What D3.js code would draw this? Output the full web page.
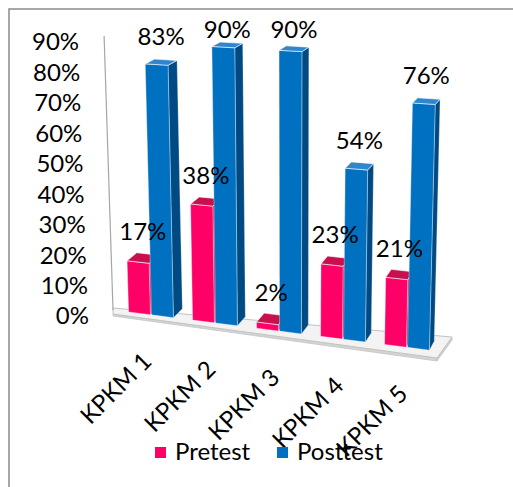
<!DOCTYPE html>
<html>
<head>
<meta charset="utf-8">
<script src="https://cdn.jsdelivr.net/npm/d3@7/dist/d3.min.js"></script>
<style>
  html, body { margin: 0; padding: 0; background: #fff; }
  svg { display: block; font-family: Lato, "Open Sans", sans-serif; }
</style>
</head>
<body>
<svg id="chart" width="513" height="487"></svg>
<script>
// ---- data ----
const categories = ["KPKM 1", "KPKM 2", "KPKM 3", "KPKM 4", "KPKM 5"];
const seriesNames = ["Pretest", "Posttest"];
const pretest = [17, 38, 2, 23, 21];
const posttest = [83, 90, 90, 54, 76];
const yTicks = [0, 10, 20, 30, 40, 50, 60, 70, 80, 90];

const colors = {
  Pretest:  { front: "#FF0066", side: "#B8004A", top: "#C8104F" },
  Posttest: { front: "#0070C0", side: "#004A84", top: "#2F86CC" }
};

const FS = 24;
const svg = d3.select("#chart");

// ---- scales (pseudo 3D projection built from linear scales) ----
const x = d3.scaleBand().domain(categories).range([119, 439]).paddingInner(0.3).paddingOuter(0.15);
const xs = d3.scaleBand().domain(seriesNames).range([0, x.bandwidth()]).paddingInner(0.05);
const frac = d3.scaleLinear().domain([0, 100]).range([0, 1]);
const baseY = d3.scaleLinear().domain([129, 433]).range([312, 350.6]);   // y of 0% at bar front
const unitH = d3.scaleLinear().domain([160, 420]).range([303, 322.5]);   // px for 100%
const depthX = d3.scaleLinear().domain([170, 433]).range([9, 4.8]);
const depthY = d3.scaleLinear().domain([0, 1]).range([9, 4]);
const leanK = 0.055, vanishX = 290;

function P(x0, val, d) {
  const f = frac(val);
  return [x0 + (x0 - vanishX) * leanK * f + d * depthX(x0),
          baseY(x0) - f * unitH(x0) - d * depthY(f)];
}

// axis scales (back wall)
const axisY = d3.scaleLinear().domain([0, 90]).range([316, 42]);
const wallY = d3.scaleLinear().domain([0, 90]).range([310, 40.5]);

// floor
const floorFront = d3.scaleLinear().domain([113, 437]).range([314, 358]);
const floorBack = d3.scaleLinear().domain([113, 452]).range([308, 337]);

// ---- outer border ----
svg.append("path").attr("d", "M9,487V9H513").attr("fill", "none")
  .attr("stroke", "#8a8a8a").attr("stroke-width", 1.5);

// ---- floor ----
const fl = [[113, floorBack(113)], [452, floorBack(452)], [437, floorFront(437)], [113, floorFront(113)]];
svg.append("polygon")
  .attr("points", [[113, floorFront(113)], [437, floorFront(437)], [437, floorFront(437) + 3], [113, floorFront(113) + 2]].join(" "))
  .attr("fill", "#d4d4d4").attr("stroke", "#c4c4c4").attr("stroke-width", 0.8);
svg.append("polygon")
  .attr("points", [[452, floorBack(452)], [437, floorFront(437)], [437, floorFront(437) + 3], [452, floorBack(452) + 3]].join(" "))
  .attr("fill", "#cfcfcf").attr("stroke", "#c4c4c4").attr("stroke-width", 0.8);
svg.append("polygon").attr("points", fl.join(" "))
  .attr("fill", "#f3f3f3").attr("stroke", "#c2c2c2").attr("stroke-width", 1);

// ---- wall / axis line ----
const wx = v => 113 + (113 - vanishX) * leanK * frac(v);
svg.append("line")
  .attr("x1", wx(0)).attr("y1", wallY(0))
  .attr("x2", wx(91.5)).attr("y2", wallY(91.5))
  .attr("stroke", "#a6a6a6").attr("stroke-width", 1.2);

// ---- y tick labels ----
svg.append("g").selectAll("text").data(yTicks).join("text")
  .attr("x", d => 89 + (89 - vanishX) * leanK * frac(d))
  .attr("y", d => axisY(d))
  .attr("dy", "0.35em")
  .attr("text-anchor", "end")
  .attr("font-size", FS)
  .attr("fill", "#000")
  .text(d => d + "%");

// ---- bars ----
const rows = [];
categories.forEach((c, i) => {
  rows.push({ cat: c, s: "Pretest", v: pretest[i] });
  rows.push({ cat: c, s: "Posttest", v: posttest[i] });
});

const gBars = svg.append("g");
rows.forEach(r => {
  const xl = x(r.cat) + xs(r.s);
  const xr = xl + xs.bandwidth();
  const col = colors[r.s];
  const g = gBars.append("g");
  g.append("polygon")
    .attr("points", [P(xr, 0, 0), P(xr, 0, 1), P(xr, r.v, 1), P(xr, r.v, 0)].join(" "))
    .attr("fill", col.side).attr("stroke", "#ffffff").attr("stroke-opacity", 0.35).attr("stroke-width", 0.8);
  g.append("polygon")
    .attr("points", [P(xl, 0, 0), P(xr, 0, 0), P(xr, r.v, 0), P(xl, r.v, 0)].join(" "))
    .attr("fill", col.front).attr("stroke", "#ffffff").attr("stroke-opacity", 0.45).attr("stroke-width", 0.8);
  g.append("polygon")
    .attr("points", [P(xl, r.v, 0), P(xr, r.v, 0), P(xr, r.v, 1), P(xl, r.v, 1)].join(" "))
    .attr("fill", col.top).attr("stroke", "#ffffff").attr("stroke-opacity", 0.7).attr("stroke-width", 0.9);
});

// ---- data labels ----
svg.append("g").selectAll("text").data(rows).join("text")
  .attr("x", r => {
    const xl = x(r.cat) + xs(r.s), xr = xl + xs.bandwidth();
    return (P(xl, r.v, 0)[0] + P(xr, r.v, 1)[0]) / 2;
  })
  .attr("y", r => {
    const xl = x(r.cat) + xs(r.s), xr = xl + xs.bandwidth();
    return Math.max(P(xr, r.v, 1)[1] - 15, 38);
  })
  .attr("text-anchor", "middle")
  .attr("font-size", FS)
  .attr("fill", "#000")
  .text(r => r.v + "%");

// ---- category labels ----
svg.append("g").selectAll("text").data(categories).join("text")
  .attr("transform", c => {
    const cx = x(c) + x.bandwidth() / 2;
    return `translate(${cx + 2},${baseY(cx) + 48}) rotate(-45)`;
  })
  .attr("text-anchor", "end")
  .attr("font-size", FS)
  .attr("fill", "#000")
  .text(c => c);

// ---- legend ----
const legendX = d3.scaleOrdinal().domain(seriesNames).range([155, 277]);
const lg = svg.append("g").selectAll("g").data(seriesNames).join("g")
  .attr("transform", s => `translate(${legendX(s)},447)`);
lg.append("rect").attr("width", 11).attr("height", 11).attr("fill", s => colors[s].front);
lg.append("text").attr("x", 20).attr("y", 12.5).attr("font-size", FS).attr("fill", "#000").text(s => s);
</script>
</body>
</html>
